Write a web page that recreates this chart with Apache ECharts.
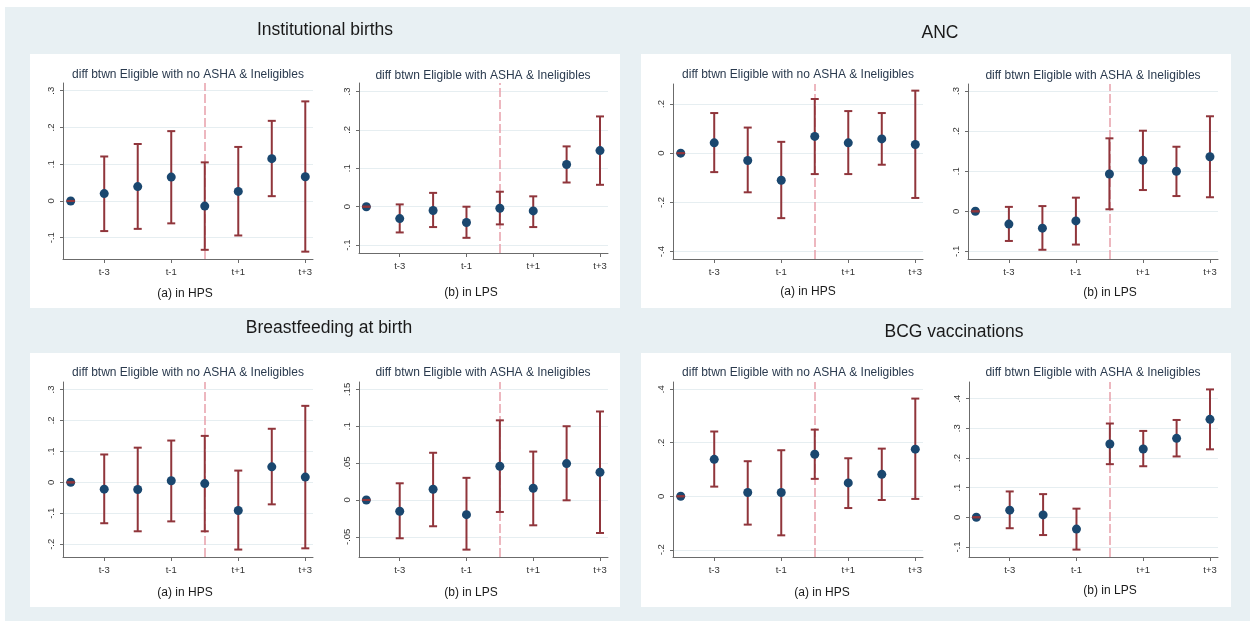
<!DOCTYPE html>
<html><head><meta charset="utf-8">
<script src="https://cdn.jsdelivr.net/npm/echarts@6/dist/echarts.min.js"></script>
<style>html,body{margin:0;padding:0;background:#fff}#c{width:1252px;height:625px}</style>
</head><body><div id="c"></div>
<script>
// ---- data ----
const periods = [-4, -3, -2, -1, 0, 1, 2, 3];
const xTickValues = [-3, -1, 1, 3];
const xTickLabels = ['t-3', 't-1', 't+1', 't+3'];

// Institutional births
const ibHpsCoef = [0, 0.020, 0.039, 0.065, -0.014, 0.026, 0.115, 0.066];
const ibHpsLow  = [0, -0.082, -0.076, -0.061, -0.133, -0.094, 0.013, -0.138];
const ibHpsHigh = [0, 0.121, 0.155, 0.190, 0.105, 0.147, 0.218, 0.271];
const ibHpsTicks = [-0.1, 0, 0.1, 0.2, 0.3];

const ibLpsCoef = [0, -0.031, -0.010, -0.041, -0.004, -0.011, 0.110, 0.146];
const ibLpsLow  = [0, -0.067, -0.053, -0.081, -0.046, -0.053, 0.063, 0.057];
const ibLpsHigh = [0, 0.006, 0.036, 0.000, 0.039, 0.027, 0.157, 0.235];
const ibLpsTicks = [-0.1, 0, 0.1, 0.2, 0.3];

// ANC
const ancHpsCoef = [0, 0.042, -0.030, -0.110, 0.068, 0.042, 0.058, 0.035];
const ancHpsLow  = [0, -0.077, -0.159, -0.264, -0.085, -0.085, -0.047, -0.182];
const ancHpsHigh = [0, 0.163, 0.104, 0.046, 0.220, 0.171, 0.163, 0.254];
const ancHpsTicks = [-0.4, -0.2, 0, 0.2];

const ancLpsCoef = [0, -0.032, -0.042, -0.024, 0.093, 0.127, 0.100, 0.136];
const ancLpsLow  = [0, -0.074, -0.096, -0.083, 0.005, 0.053, 0.038, 0.035];
const ancLpsHigh = [0, 0.011, 0.013, 0.034, 0.182, 0.201, 0.161, 0.237];
const ancLpsTicks = [-0.1, 0, 0.1, 0.2, 0.3];

// Breastfeeding at birth
const bfHpsCoef = [0, -0.022, -0.023, 0.005, -0.004, -0.091, 0.050, 0.017];
const bfHpsLow  = [0, -0.132, -0.158, -0.126, -0.158, -0.217, -0.071, -0.213];
const bfHpsHigh = [0, 0.090, 0.112, 0.135, 0.150, 0.038, 0.173, 0.247];
const bfHpsTicks = [-0.2, -0.1, 0, 0.1, 0.2, 0.3];

const bfLpsCoef = [0, -0.0154, 0.0145, -0.020, 0.0457, 0.0158, 0.0493, 0.0376];
const bfLpsLow  = [0, -0.052, -0.0357, -0.0674, -0.0163, -0.0344, -0.0005, -0.0448];
const bfLpsHigh = [0, 0.0226, 0.064, 0.030, 0.108, 0.0656, 0.100, 0.120];
const bfLpsTicks = [-0.05, 0, 0.05, 0.1, 0.15];

// BCG vaccinations
const bcgHpsCoef = [0, 0.138, 0.014, 0.014, 0.157, 0.050, 0.082, 0.176];
const bcgHpsLow  = [0, 0.036, -0.106, -0.146, 0.065, -0.044, -0.014, -0.010];
const bcgHpsHigh = [0, 0.242, 0.131, 0.172, 0.249, 0.142, 0.178, 0.365];
const bcgHpsTicks = [-0.2, 0, 0.2, 0.4];

const bcgLpsCoef = [0, 0.024, 0.008, -0.040, 0.247, 0.230, 0.266, 0.330];
const bcgLpsLow  = [0, -0.037, -0.060, -0.109, 0.179, 0.172, 0.205, 0.229];
const bcgLpsHigh = [0, 0.087, 0.078, 0.029, 0.316, 0.291, 0.328, 0.431];
const bcgLpsTicks = [-0.1, 0, 0.1, 0.2, 0.3, 0.4];

const mainTitles = ['Institutional births', 'ANC', 'Breastfeeding at birth', 'BCG vaccinations'];
const subTitleA = 'diff btwn Eligible with no ASHA & Ineligibles';
const subTitleB = 'diff btwn Eligible with ASHA & Ineligibles';
const captionA = '(a) in HPS';
const captionB = '(b) in LPS';

// ---- layout ----
const FONT = '"Liberation Sans", Arial, sans-serif';
const NAVY = '#1a476f', RED = '#90353b', DASH = '#e7a0aa';
const panels = [
  {coef: ibHpsCoef, low: ibHpsLow, high: ibHpsHigh, ticks: ibHpsTicks, g: [63, 83, 250, 176], xr: [-4.23, 3.23], yr: [-0.158, 0.321], sub: subTitleA, subPos: [188, 75], cap: captionA, capPos: [185, 294]},
  {coef: ibLpsCoef, low: ibLpsLow, high: ibLpsHigh, ticks: ibLpsTicks, g: [359, 83, 249, 170], xr: [-4.22, 3.24], yr: [-0.1205, 0.322], sub: subTitleB, subPos: [483, 76], cap: captionB, capPos: [471, 293]},
  {coef: ancHpsCoef, low: ancHpsLow, high: ancHpsHigh, ticks: ancHpsTicks, g: [673, 84, 250, 175], xr: [-4.23, 3.23], yr: [-0.430, 0.281], sub: subTitleA, subPos: [798, 75], cap: captionA, capPos: [808, 292]},
  {coef: ancLpsCoef, low: ancLpsLow, high: ancLpsHigh, ticks: ancLpsTicks, g: [968, 84, 250, 175], xr: [-4.22, 3.24], yr: [-0.119, 0.3175], sub: subTitleB, subPos: [1093, 76], cap: captionB, capPos: [1110, 293]},
  {coef: bfHpsCoef, low: bfHpsLow, high: bfHpsHigh, ticks: bfHpsTicks, g: [63, 382, 250, 175], xr: [-4.23, 3.23], yr: [-0.241, 0.324], sub: subTitleA, subPos: [188, 373], cap: captionA, capPos: [185, 593]},
  {coef: bfLpsCoef, low: bfLpsLow, high: bfLpsHigh, ticks: bfLpsTicks, g: [359, 382, 249, 175], xr: [-4.22, 3.24], yr: [-0.0774, 0.160], sub: subTitleB, subPos: [483, 373], cap: captionB, capPos: [471, 593]},
  {coef: bcgHpsCoef, low: bcgHpsLow, high: bcgHpsHigh, ticks: bcgHpsTicks, g: [673, 382, 250, 175], xr: [-4.23, 3.23], yr: [-0.227, 0.427], sub: subTitleA, subPos: [798, 373], cap: captionA, capPos: [822, 593]},
  {coef: bcgLpsCoef, low: bcgLpsLow, high: bcgLpsHigh, ticks: bcgLpsTicks, g: [969, 382, 249, 175], xr: [-4.22, 3.24], yr: [-0.134, 0.456], sub: subTitleB, subPos: [1093, 373], cap: captionB, capPos: [1110, 591]}
];
const titlePos = [[325, 30], [940, 33], [329, 328], [954, 332]];

function fmtY(v) {
  if (Math.abs(v) < 1e-9) return '0';
  const s = (+v.toFixed(3)).toString();
  return s.replace(/^(-?)0\./, '$1.');
}

const grid = [], xAxis = [], yAxis = [], series = [];
const graphics = [
  {type: 'rect', z: -30, shape: {x: 5, y: 7, width: 1245, height: 614}, style: {fill: '#e8f0f3'}},
  {type: 'rect', z: -20, shape: {x: 30, y: 54, width: 590, height: 254}, style: {fill: '#ffffff'}},
  {type: 'rect', z: -20, shape: {x: 641, y: 54, width: 590, height: 254}, style: {fill: '#ffffff'}},
  {type: 'rect', z: -20, shape: {x: 30, y: 353, width: 590, height: 254}, style: {fill: '#ffffff'}},
  {type: 'rect', z: -20, shape: {x: 641, y: 353, width: 590, height: 254}, style: {fill: '#ffffff'}}
];
mainTitles.forEach((t, i) => {
  graphics.push({type: 'text', z: 10, x: titlePos[i][0], y: titlePos[i][1],
    style: {text: t, font: '17.5px ' + FONT, fill: '#1a1a1a', textAlign: 'center', textVerticalAlign: 'middle'}});
});

panels.forEach((p, i) => {
  grid.push({left: p.g[0], top: p.g[1], width: p.g[2], height: p.g[3], containLabel: false});
  xAxis.push({
    gridIndex: i, type: 'value', min: p.xr[0], max: p.xr[1],
    axisLine: {show: true, onZero: false, lineStyle: {color: '#6b6b6b', width: 1}},
    axisTick: {show: true, customValues: xTickValues, length: 4, lineStyle: {color: '#6b6b6b'}},
    axisLabel: {customValues: xTickValues, formatter: v => xTickLabels[xTickValues.indexOf(v)] || '',
      fontSize: 9.5, color: '#333', margin: 8, fontFamily: FONT},
    splitLine: {show: false}
  });
  yAxis.push({
    gridIndex: i, type: 'value', min: p.yr[0], max: p.yr[1],
    axisLine: {show: true, onZero: false, lineStyle: {color: '#6b6b6b', width: 1}},
    axisTick: {show: true, customValues: p.ticks, length: 3, lineStyle: {color: '#6b6b6b'}},
    axisLabel: {customValues: p.ticks, rotate: 90, formatter: fmtY, fontSize: 9.5, color: '#333', margin: 7, fontFamily: FONT},
    splitLine: {show: true, lineStyle: {color: '#e6eef1', width: 1}}
  });
  const ciData = periods.map((x, j) => [x, p.low[j], p.high[j]]);
  series.push({
    type: 'custom', xAxisIndex: i, yAxisIndex: i, z: 2, data: ciData, encode: {x: 0, y: [1, 2]},
    renderItem: (params, api) => {
      const x = api.value(0);
      const a = api.coord([x, api.value(1)]), b = api.coord([x, api.value(2)]);
      return {type: 'line', shape: {x1: a[0], y1: a[1], x2: b[0], y2: b[1]}, style: {stroke: RED, lineWidth: 2}};
    },
    markLine: {silent: true, z: 1, symbol: ['none', 'none'], label: {show: false},
      lineStyle: {color: DASH, type: [9, 3], width: 1.5}, data: [{xAxis: 0}], animation: false}
  });
  series.push({
    type: 'scatter', xAxisIndex: i, yAxisIndex: i, z: 3, symbol: 'circle', symbolSize: 9,
    itemStyle: {color: NAVY, opacity: 1},
    data: periods.map((x, j) => [x, p.coef[j]])
  });
  series.push({
    type: 'custom', xAxisIndex: i, yAxisIndex: i, z: 4, data: ciData, encode: {x: 0, y: [1, 2]},
    renderItem: (params, api) => {
      const x = api.value(0);
      const a = api.coord([x, api.value(1)]), b = api.coord([x, api.value(2)]);
      const h = 4;
      return {type: 'group', children: [
        {type: 'line', shape: {x1: a[0] - h, y1: a[1], x2: a[0] + h, y2: a[1]}, style: {stroke: RED, lineWidth: 2}},
        {type: 'line', shape: {x1: b[0] - h, y1: b[1], x2: b[0] + h, y2: b[1]}, style: {stroke: RED, lineWidth: 2}}
      ]};
    }
  });
  graphics.push({type: 'text', z: 10, x: p.subPos[0], y: p.subPos[1],
    style: {text: p.sub, font: '12px ' + FONT, fill: '#2a3a4e', textAlign: 'center', textVerticalAlign: 'middle'}});
  graphics.push({type: 'text', z: 10, x: p.capPos[0], y: p.capPos[1],
    style: {text: p.cap, font: '12px ' + FONT, fill: '#1a1a1a', textAlign: 'center', textVerticalAlign: 'middle'}});
});

const chart = echarts.init(document.getElementById('c'), null, {renderer: 'canvas'});
chart.setOption({
  animation: false,
  backgroundColor: '#ffffff',
  grid, xAxis, yAxis, series,
  graphic: {elements: graphics}
});
</script></body></html>
